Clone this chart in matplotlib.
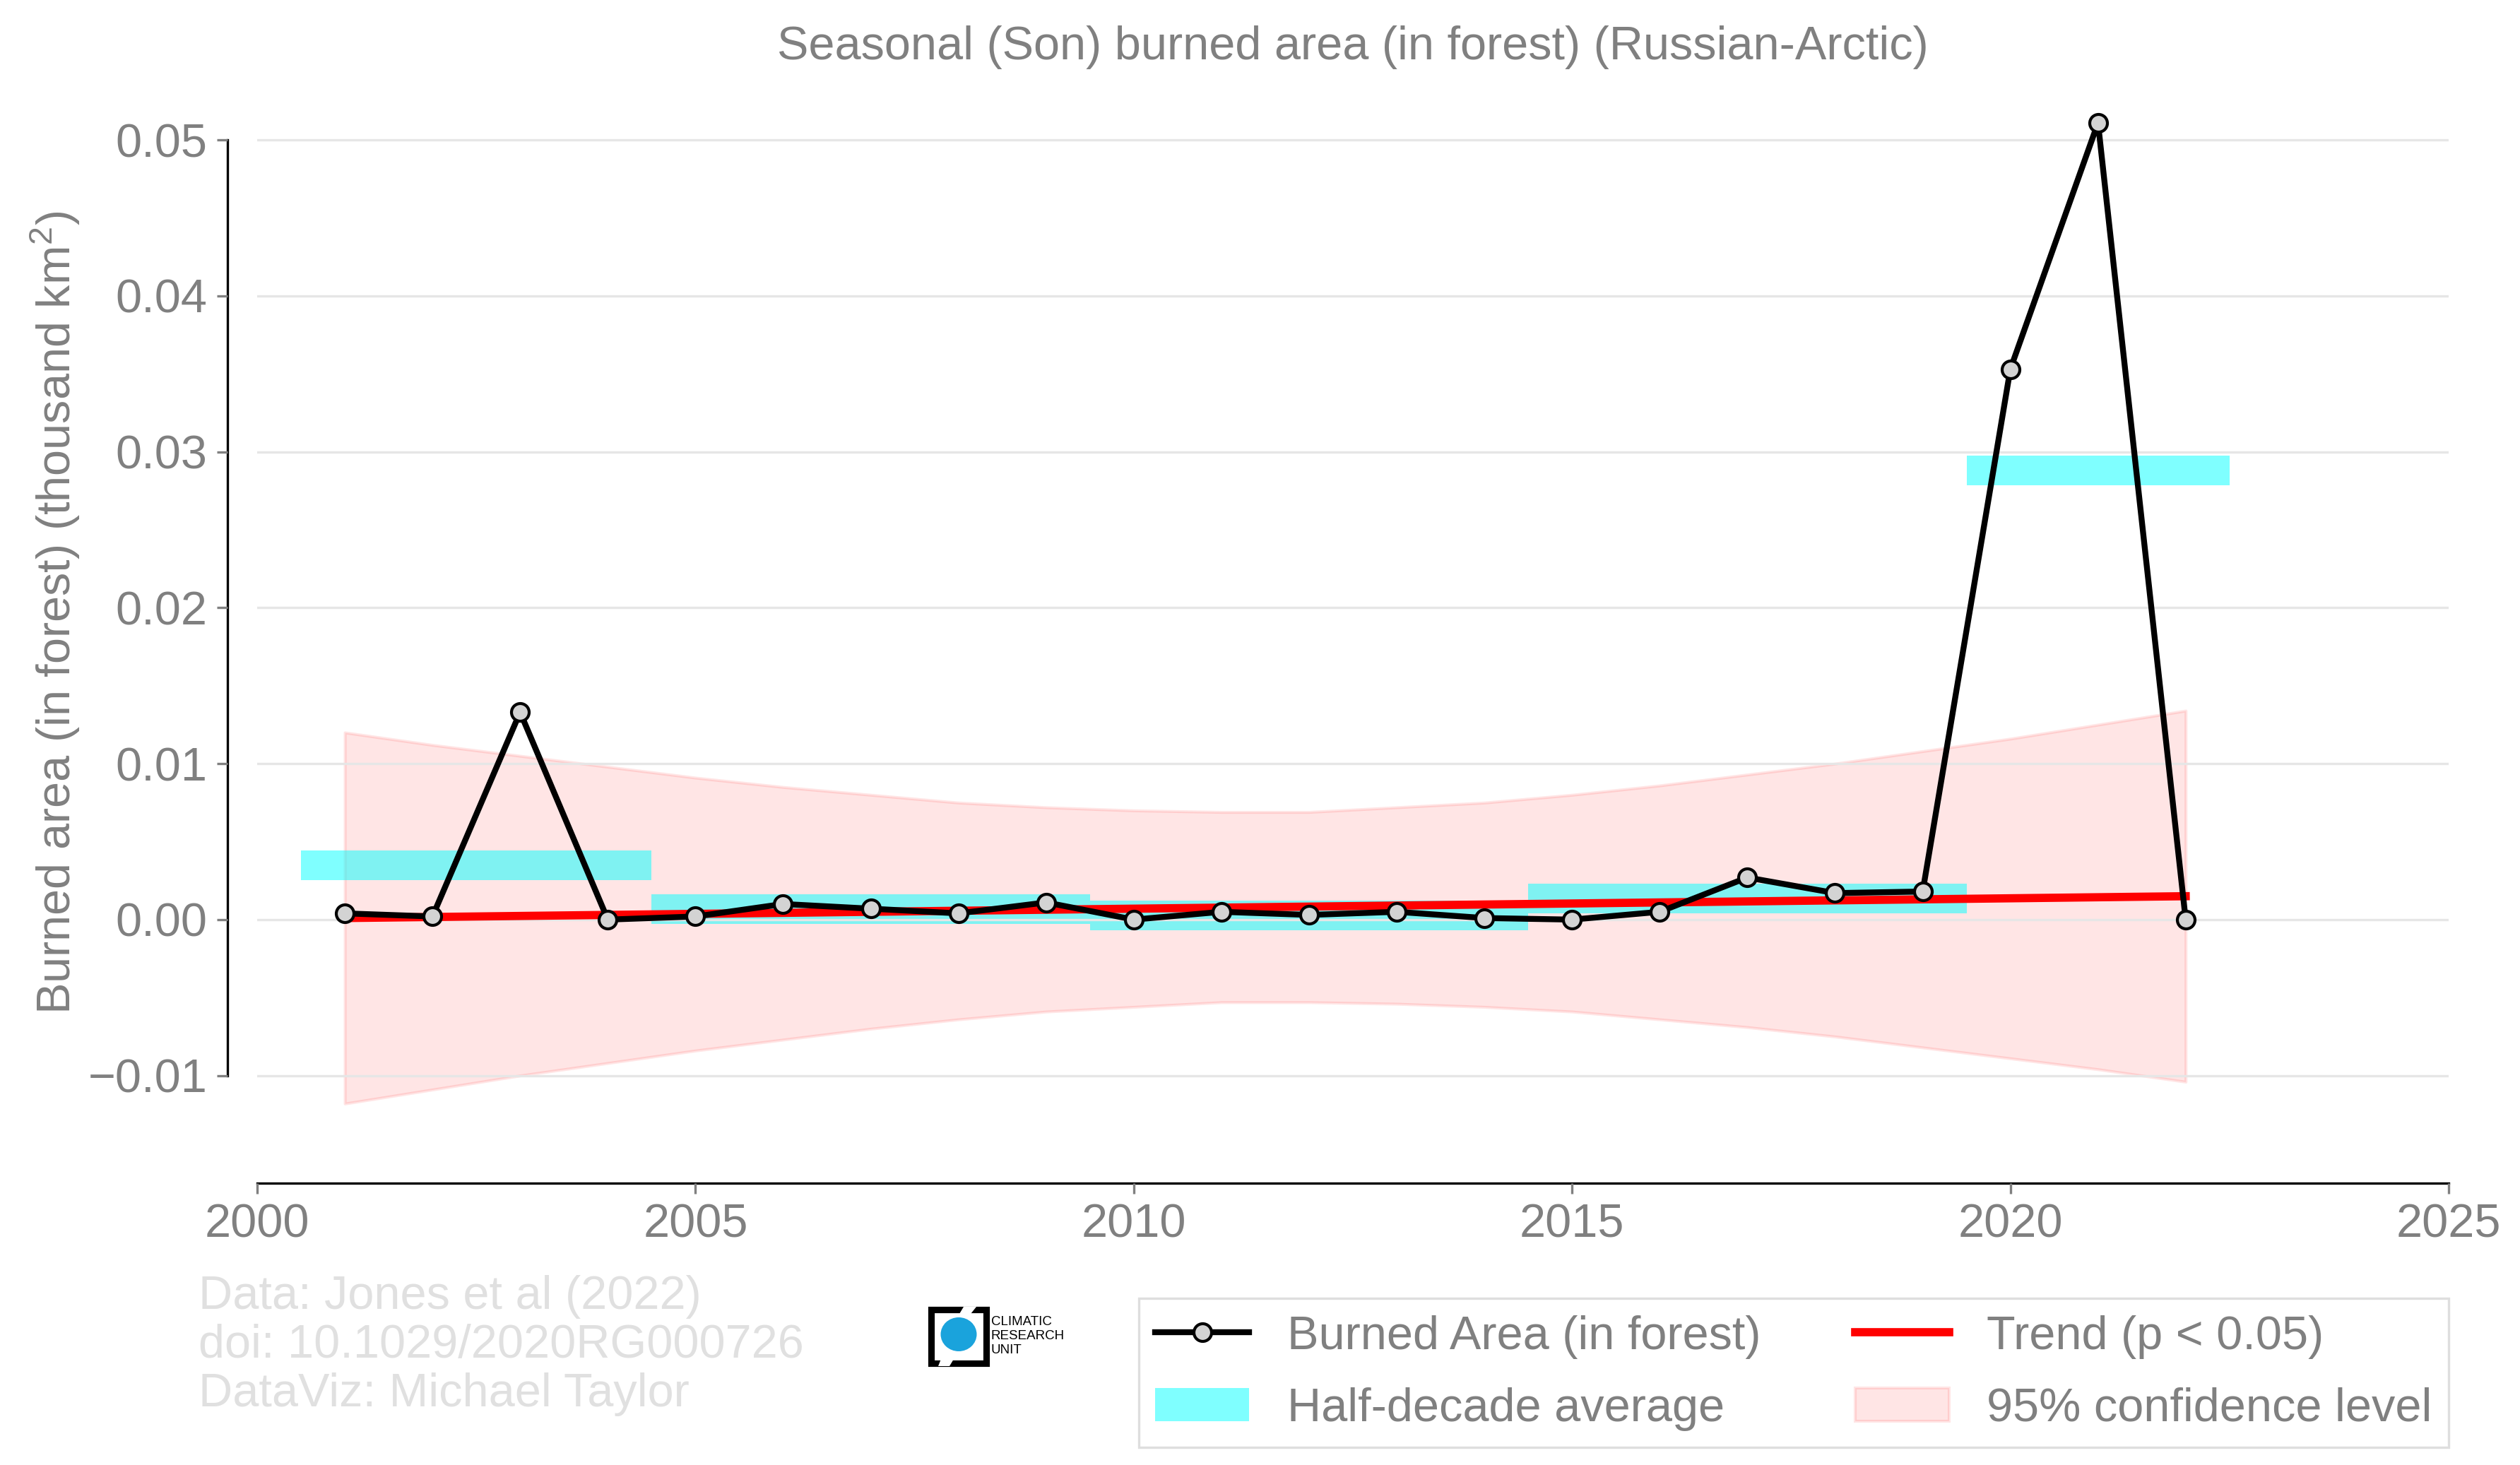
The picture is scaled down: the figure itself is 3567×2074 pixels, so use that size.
import numpy as np
import matplotlib
matplotlib.use("Agg")
from matplotlib import pyplot as plt
from matplotlib.patches import Rectangle, Ellipse, Polygon

plt.rcParams['font.family'] = ['Liberation Sans', 'DejaVu Sans']
plt.rcParams['mathtext.fontset'] = 'custom'
plt.rcParams['mathtext.rm'] = 'Liberation Sans'
plt.rcParams['mathtext.default'] = 'regular'

# burned area in forest, SON season (thousand km2)
years = np.arange(2001, 2023)
burned = [0.0004, 0.0002, 0.0133, 0.0000, 0.0002, 0.0010, 0.0007, 0.0004,
          0.0011, 0.0000, 0.0005, 0.0003, 0.0005, 0.0001, 0.0000, 0.0005,
          0.0027, 0.0017, 0.0018, 0.0353, 0.0511, 0.0000]

# half-decade blocks (edges)
block_starts = [2000.5, 2004.5, 2009.5, 2014.5, 2019.5]
block_ends = [2004.5, 2009.5, 2014.5, 2019.5, 2022.5]

# trend line end points
trend_years = [2001, 2022]
trend_vals = [0.0001, 0.0015]

# 95% confidence band
ci_upper = [0.0120, 0.0112, 0.0105, 0.0098, 0.0091, 0.0085, 0.0080, 0.0075,
            0.0072, 0.0070, 0.0069, 0.0069, 0.0072, 0.0075, 0.0080, 0.0086,
            0.0093, 0.0100, 0.0108, 0.0116, 0.0125, 0.0134]
ci_lower = [-0.0118, -0.0109, -0.0100, -0.0092, -0.0084, -0.0077, -0.0070, -0.0064,
            -0.0059, -0.0056, -0.0053, -0.0053, -0.0054, -0.0056, -0.0059, -0.0064,
            -0.0069, -0.0075, -0.0082, -0.0089, -0.0096, -0.0104]

W, H = 3567, 2074
fig = plt.figure(figsize=(W / 300, H / 300), dpi=300)
ax = fig.add_axes([364 / W, 1 - 1633 / H, (3466 - 364) / W, (1633 - 101) / H])

grey = '#808080'

# block means
burned_arr = np.array(burned)
means = []
for s, e in zip(block_starts, block_ends):
    m = (years > s) & (years < e)
    means.append(burned_arr[m].mean())
means = np.array(means)
bar_h = 0.0019
starts = np.array(block_starts)
widths = np.array(block_ends) - starts

band = ax.fill_between(years, ci_lower, ci_upper, color='red', alpha=0.1, zorder=1)
bars = ax.bar(starts, bar_h, width=widths, bottom=means - bar_h / 2, align='edge',
              color='cyan', alpha=0.5, zorder=2)
trend, = ax.plot(trend_years, trend_vals, color='red', lw=2.8, zorder=3)
line, = ax.plot(years, burned, color='black', lw=2, marker='o', markersize=6,
                markerfacecolor='lightgrey', markeredgecolor='black',
                markeredgewidth=1, zorder=4)

ax.set_xlim(2000, 2025)
ax.set_ylim(-0.0150, 0.0544)
ax.set_xticks(np.arange(2000, 2026, 5))
ax.set_yticks(np.arange(-0.01, 0.051, 0.01))
ax.yaxis.grid(True, color='#e6e6e6', lw=0.8)
ax.set_axisbelow(False)

for s in ['top', 'right']:
    ax.spines[s].set_visible(False)
ax.spines['left'].set_position(('outward', 10))
ax.spines['bottom'].set_position(('outward', 10))
ax.spines['left'].set_bounds(-0.01, 0.05)
ax.spines['bottom'].set_bounds(2000, 2025)
ax.tick_params(axis='both', colors=grey, labelsize=16, length=3.5, width=0.8)

ax.set_title('Seasonal (Son) burned area (in forest) (Russian-Arctic)',
             color=grey, fontsize=16, pad=4)
ax.set_ylabel('Burned area (in forest) (thousand km$^2$)', color=grey,
              fontsize=16, labelpad=2)

leg = ax.legend([line, bars, trend, band],
                ['Burned Area (in forest)', 'Half-decade average',
                 'Trend (p < 0.05)', '95% confidence level'],
                ncol=2, loc='upper right', bbox_to_anchor=(1.0, -0.134),
                borderaxespad=0, fontsize=16, frameon=True, fancybox=False,
                edgecolor='#d6d6d6', labelspacing=0.6, borderpad=0.35,
                columnspacing=2.0)
leg.get_frame().set_linewidth(0.8)
for t in leg.get_texts():
    t.set_color(grey)

fig.text(281 / W, 1 - 1805 / H,
         'Data: Jones et al (2022)\ndoi: 10.1029/2020RG000726\nDataViz: Michael Taylor',
         color='#e0e0e0', fontsize=16, ha='left', va='top', linespacing=1.15)

# CRU logo (rough sketch)
lax = fig.add_axes([1300 / W, 1 - 1945 / H, 220 / W, 110 / H])
lax.set_xlim(1300, 1520)
lax.set_ylim(1945, 1835)
lax.axis('off')
lax.add_patch(Rectangle((1318, 1854), 78, 76, fill=False, ec='black', lw=2.2))
lax.add_patch(Polygon([[1364, 1850], [1382, 1850], [1374, 1860], [1358, 1860]],
                      closed=True, fc='white', ec='none'))
lax.add_patch(Polygon([[1332, 1924], [1350, 1924], [1344, 1934], [1328, 1934]],
                      closed=True, fc='white', ec='none'))
lax.add_patch(Ellipse((1357, 1889), 51, 48, fc='#1aa3dc', ec='none'))
for txt, yy in zip(['CLIMATIC', 'RESEARCH', 'UNIT'], [1872, 1892, 1912]):
    lax.text(1403, yy, txt, fontsize=4.5, color='black', ha='left', va='center')

fig.savefig('out.png', dpi=300)
